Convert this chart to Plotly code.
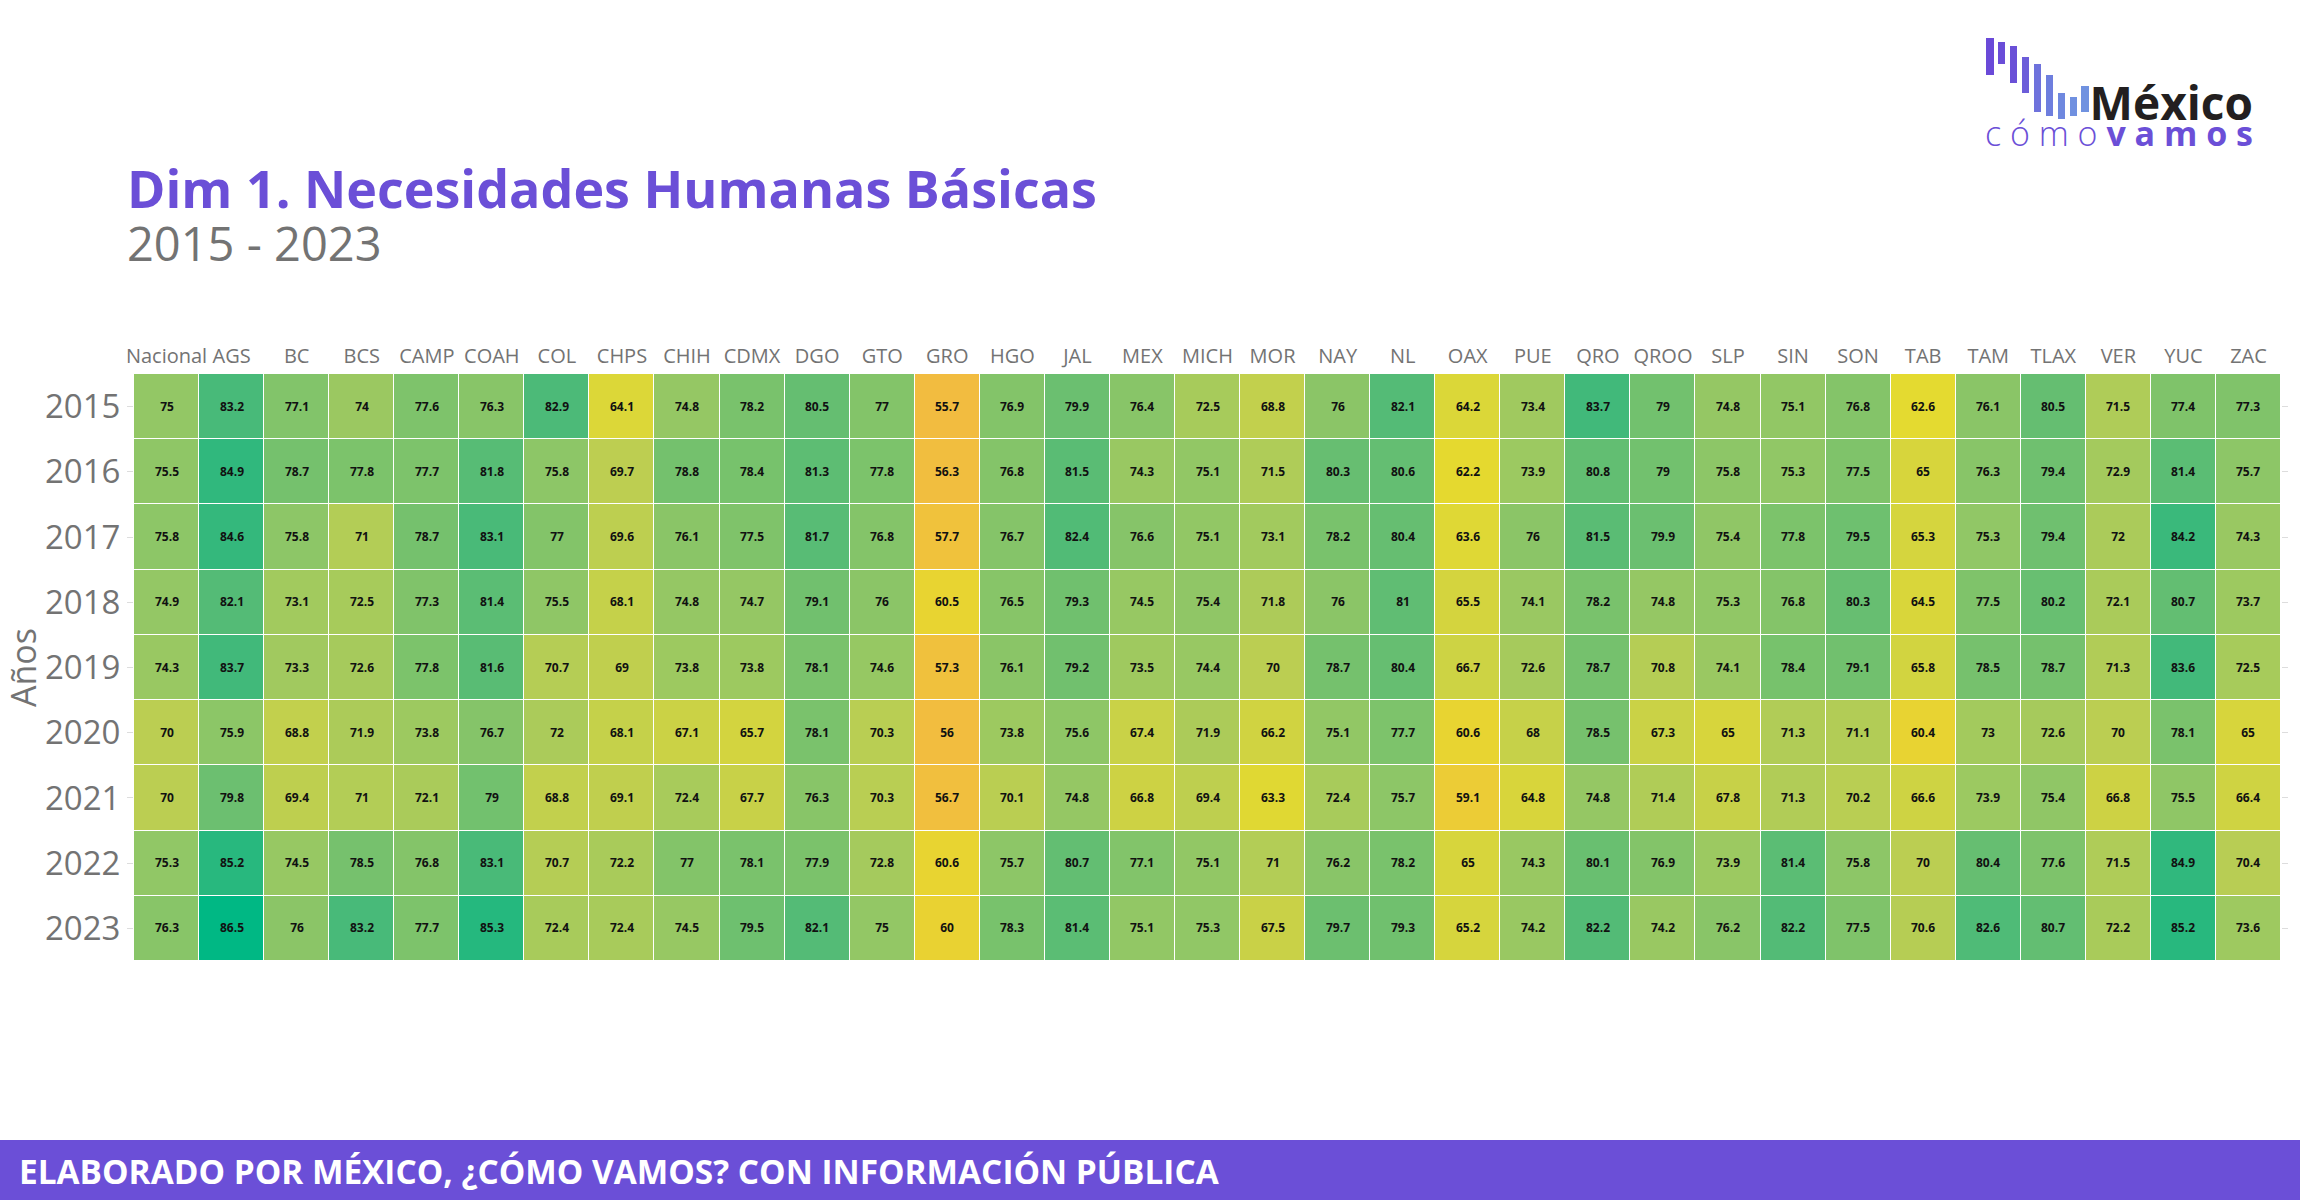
import plotly.graph_objects as go

# ---------------- data ----------------
estados = ["Nacional", "AGS", "BC", "BCS", "CAMP", "COAH", "COL", "CHPS", "CHIH", "CDMX", "DGO",
           "GTO", "GRO", "HGO", "JAL", "MEX", "MICH", "MOR", "NAY", "NL", "OAX", "PUE", "QRO",
           "QROO", "SLP", "SIN", "SON", "TAB", "TAM", "TLAX", "VER", "YUC", "ZAC"]
anios = ["2015", "2016", "2017", "2018", "2019", "2020", "2021", "2022", "2023"]

v2015 = [75, 83.2, 77.1, 74, 77.6, 76.3, 82.9, 64.1, 74.8, 78.2, 80.5, 77, 55.7, 76.9, 79.9, 76.4, 72.5,
         68.8, 76, 82.1, 64.2, 73.4, 83.7, 79, 74.8, 75.1, 76.8, 62.6, 76.1, 80.5, 71.5, 77.4, 77.3]
v2016 = [75.5, 84.9, 78.7, 77.8, 77.7, 81.8, 75.8, 69.7, 78.8, 78.4, 81.3, 77.8, 56.3, 76.8, 81.5, 74.3, 75.1,
         71.5, 80.3, 80.6, 62.2, 73.9, 80.8, 79, 75.8, 75.3, 77.5, 65, 76.3, 79.4, 72.9, 81.4, 75.7]
v2017 = [75.8, 84.6, 75.8, 71, 78.7, 83.1, 77, 69.6, 76.1, 77.5, 81.7, 76.8, 57.7, 76.7, 82.4, 76.6, 75.1,
         73.1, 78.2, 80.4, 63.6, 76, 81.5, 79.9, 75.4, 77.8, 79.5, 65.3, 75.3, 79.4, 72, 84.2, 74.3]
v2018 = [74.9, 82.1, 73.1, 72.5, 77.3, 81.4, 75.5, 68.1, 74.8, 74.7, 79.1, 76, 60.5, 76.5, 79.3, 74.5, 75.4,
         71.8, 76, 81, 65.5, 74.1, 78.2, 74.8, 75.3, 76.8, 80.3, 64.5, 77.5, 80.2, 72.1, 80.7, 73.7]
v2019 = [74.3, 83.7, 73.3, 72.6, 77.8, 81.6, 70.7, 69, 73.8, 73.8, 78.1, 74.6, 57.3, 76.1, 79.2, 73.5, 74.4,
         70, 78.7, 80.4, 66.7, 72.6, 78.7, 70.8, 74.1, 78.4, 79.1, 65.8, 78.5, 78.7, 71.3, 83.6, 72.5]
v2020 = [70, 75.9, 68.8, 71.9, 73.8, 76.7, 72, 68.1, 67.1, 65.7, 78.1, 70.3, 56, 73.8, 75.6, 67.4, 71.9,
         66.2, 75.1, 77.7, 60.6, 68, 78.5, 67.3, 65, 71.3, 71.1, 60.4, 73, 72.6, 70, 78.1, 65]
v2021 = [70, 79.8, 69.4, 71, 72.1, 79, 68.8, 69.1, 72.4, 67.7, 76.3, 70.3, 56.7, 70.1, 74.8, 66.8, 69.4,
         63.3, 72.4, 75.7, 59.1, 64.8, 74.8, 71.4, 67.8, 71.3, 70.2, 66.6, 73.9, 75.4, 66.8, 75.5, 66.4]
v2022 = [75.3, 85.2, 74.5, 78.5, 76.8, 83.1, 70.7, 72.2, 77, 78.1, 77.9, 72.8, 60.6, 75.7, 80.7, 77.1, 75.1,
         71, 76.2, 78.2, 65, 74.3, 80.1, 76.9, 73.9, 81.4, 75.8, 70, 80.4, 77.6, 71.5, 84.9, 70.4]
v2023 = [76.3, 86.5, 76, 83.2, 77.7, 85.3, 72.4, 72.4, 74.5, 79.5, 82.1, 75, 60, 78.3, 81.4, 75.1, 75.3,
         67.5, 79.7, 79.3, 65.2, 74.2, 82.2, 74.2, 76.2, 82.2, 77.5, 70.6, 82.6, 80.7, 72.2, 85.2, 73.6]

valores = [v2015, v2016, v2017, v2018, v2019, v2020, v2021, v2022, v2023]

titulo = "Dim 1. Necesidades Humanas Básicas"
subtitulo = "2015 - 2023"
pie = "ELABORADO POR MÉXICO, ¿CÓMO VAMOS? CON INFORMACIÓN PÚBLICA"

# ---------------- layout geometry ----------------
W, H = 2300, 1200
L, R, T, B = 134, 19, 374, 239
PW, PH = W - L - R, H - T - B
PURPLE = "#6B4FD7"
GRAY = "#737373"
FONT = "Open Sans"


def px(x):
    return (x - L) / PW


def py(y):
    return (H - B - y) / PH


colorscale = [
    [0.0, "#F2BC40"],
    [0.065, "#F0C23C"],
    [0.14, "#E9D232"],
    [0.22, "#E5DA2F"],
    [0.30, "#D7D53C"],
    [0.464, "#BBCE52"],
    [0.627, "#93C765"],
    [0.789, "#6ABF70"],
    [0.886, "#4BBA78"],
    [0.951, "#2FB87D"],
    [1.0, "#00B884"],
]

fig = go.Figure(
    go.Heatmap(
        z=valores,
        x=estados,
        y=anios,
        colorscale=colorscale,
        zmin=55.7,
        zmax=86.5,
        showscale=False,
        xgap=1,
        ygap=1,
        texttemplate="%{z}",
        textfont=dict(family=FONT, size=12, color="#111111", weight="bold"),
        hoverinfo="x+y+z",
    )
)

shapes = []
annotations = []

# footer band
shapes.append(dict(type="rect", xref="paper", yref="paper", x0=px(0), x1=px(W), y0=py(1200), y1=py(1140),
                   fillcolor=PURPLE, line=dict(width=0), layer="below"))
annotations.append(dict(text="<b>" + pie + "</b>", xref="paper", yref="paper", x=px(17), y=py(1171),
                        xanchor="left", yanchor="middle", showarrow=False,
                        font=dict(family=FONT, size=33.4, color="white")))

# title / subtitle
annotations.append(dict(text="<b>" + titulo + "</b>", xref="paper", yref="paper", x=px(125), y=py(187),
                        xanchor="left", yanchor="middle", showarrow=False,
                        font=dict(family=FONT, size=52, color=PURPLE)))
annotations.append(dict(text=subtitulo, xref="paper", yref="paper", x=px(125), y=py(243),
                        xanchor="left", yanchor="middle", showarrow=False,
                        font=dict(family=FONT, size=47, color=GRAY)))

# logo bars
bars = [
    (1986, 1994, 38, 75, "#6A4AD8"),
    (1998, 2005, 42, 64, "#6A4DD8"),
    (2010, 2017, 46, 83, "#6A50D7"),
    (2022, 2029, 57, 93, "#6C5DD9"),
    (2034, 2041, 64, 112, "#6E72DC"),
    (2046, 2053, 75, 116, "#6E7EDE"),
    (2058, 2065, 93, 119, "#6F88DF"),
    (2070, 2077, 97, 116, "#7090E0"),
    (2081, 2089, 86, 112, "#7092E0"),
]
for x0, x1, y0, y1, c in bars:
    shapes.append(dict(type="rect", xref="paper", yref="paper", x0=px(x0), x1=px(x1), y0=py(y1), y1=py(y0),
                       fillcolor=c, line=dict(width=0)))

logo_txt = ("<span style='font-size:46px;color:#231F20'><b>México</b></span><br>"
            "<span style='font-size:34px'><span style='font-weight:300'>c ó m o </span><b>v a m o s</b></span>")
annotations.append(dict(text=logo_txt, xref="paper", yref="paper", x=px(2255), y=py(113),
                        xanchor="right", yanchor="middle", align="right", showarrow=False,
                        font=dict(family=FONT, size=20, color=PURPLE)))

fig.update_layout(
    width=W,
    height=H,
    autosize=False,
    margin=dict(l=L, r=R, t=T, b=B, pad=0),
    paper_bgcolor="white",
    plot_bgcolor="white",
    font=dict(family=FONT, color=GRAY),
    shapes=shapes,
    annotations=annotations,
    xaxis=dict(side="top", ticks="", showgrid=False, zeroline=False, showline=False, ticklabelstandoff=6,
               tickfont=dict(family=FONT, size=20, color=GRAY), automargin=False, fixedrange=True),
    yaxis=dict(autorange="reversed", ticks="outside", ticklen=6, tickcolor="#DDDDDD", tickwidth=1,
               mirror="ticks", showgrid=False, zeroline=False, showline=False,
               tickfont=dict(family=FONT, size=33, color=GRAY), automargin=False, fixedrange=True,
               title=dict(text="Años", font=dict(family=FONT, size=34, color=GRAY), standoff=3)),
)

fig.write_html("out.html")
